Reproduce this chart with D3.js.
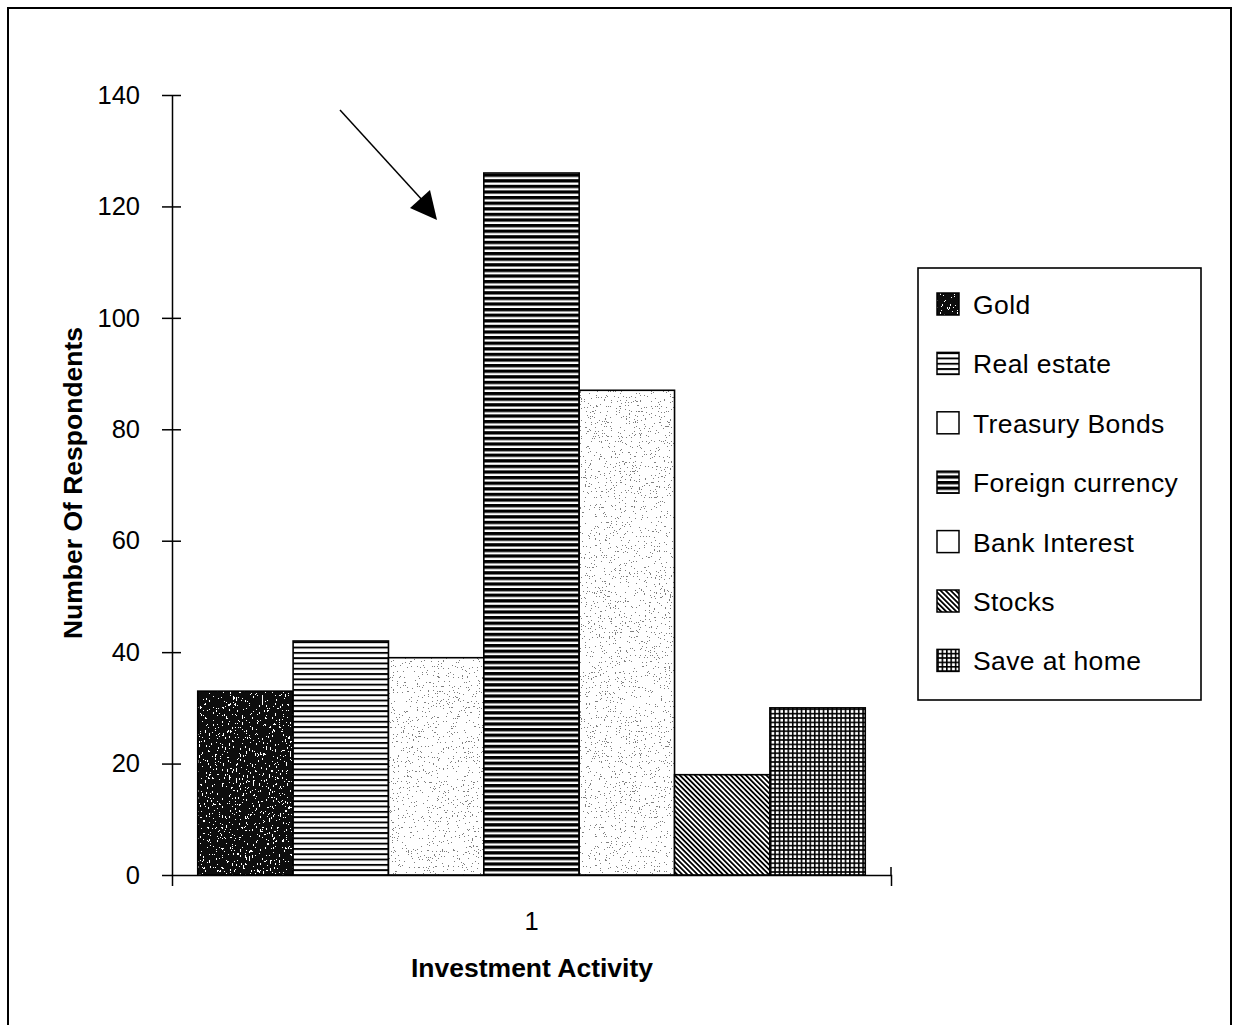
<!DOCTYPE html>
<html>
<head>
<meta charset="utf-8">
<script src="https://cdn.jsdelivr.net/npm/d3@7/dist/d3.min.js"></script>
<style>
  html, body { margin: 0; padding: 0; background: #fff; }
  svg { display: block; font-family: "Liberation Sans", Arial, sans-serif; }
</style>
</head>
<body>
<svg id="chart" width="1238" height="1025"></svg>
<script>
// Survey: where respondents put their savings
const categories = ["1"];
const seriesNames = ["Gold", "Real estate", "Treasury Bonds", "Foreign currency", "Bank Interest", "Stocks", "Save at home"];
const seriesValues = [33, 42, 39, 126, 87, 18, 30];
const yTicks = [0, 20, 40, 60, 80, 100, 120, 140];

const svg = d3.select("#chart");
const defs = svg.append("defs");

// ---- fill textures ----
function hLines(id, period, thick) {
  const p = defs.append("pattern").attr("id", id).attr("patternUnits", "userSpaceOnUse")
    .attr("width", 10).attr("height", period);
  p.append("rect").attr("width", 10).attr("height", period).attr("fill", "#fff");
  p.append("rect").attr("width", 10).attr("height", thick).attr("fill", "#000");
}
hLines("patReal", 5.3, 1.9);
hLines("patForex", 5.6, 3.3);

const diag = defs.append("pattern").attr("id", "patStocks").attr("patternUnits", "userSpaceOnUse")
  .attr("width", 10).attr("height", 3.6).attr("patternTransform", "rotate(45)");
diag.append("rect").attr("width", 10).attr("height", 3.6).attr("fill", "#fff");
diag.append("rect").attr("width", 10).attr("height", 1.8).attr("fill", "#000");

const grid = defs.append("pattern").attr("id", "patHome").attr("patternUnits", "userSpaceOnUse")
  .attr("width", 4.4).attr("height", 4.4);
grid.append("rect").attr("width", 4.4).attr("height", 4.4).attr("fill", "#fff");
grid.append("rect").attr("width", 1.6).attr("height", 4.4).attr("fill", "#000");
grid.append("rect").attr("width", 4.4).attr("height", 1.6).attr("fill", "#000");

// speckled (stipple) fills built from turbulence noise
function speckle(id, freq, octaves, seed, zeros, ones, rgb) {
  const f = defs.append("filter").attr("id", id)
    .attr("x", 0).attr("y", 0).attr("width", 1).attr("height", 1)
    .attr("color-interpolation-filters", "sRGB");
  f.append("feTurbulence").attr("type", "fractalNoise").attr("baseFrequency", freq)
    .attr("numOctaves", octaves).attr("seed", seed).attr("result", "noise");
  f.append("feColorMatrix").attr("in", "noise").attr("type", "matrix")
    .attr("values", `0 0 0 0 ${rgb[0]}  0 0 0 0 ${rgb[1]}  0 0 0 0 ${rgb[2]}  1 0 0 0 0`)
    .attr("result", "tint");
  const ct = f.append("feComponentTransfer").attr("in", "tint").attr("result", "cut");
  ct.append("feFuncA").attr("type", "discrete")
    .attr("tableValues", Array(zeros).fill(0).concat(Array(ones).fill(1)).join(" "));
  f.append("feComposite").attr("in", "cut").attr("in2", "SourceGraphic").attr("operator", "in");
}
speckle("spGold", "0.7 0.3", 3, 4, 13, 27, [0.05, 0.05, 0.05]);
speckle("spTreasury", "0.8", 2, 11, 14, 6, [0.5, 0.5, 0.5]);
speckle("spBank", "0.8", 2, 23, 14, 6, [0.5, 0.5, 0.5]);

// how each series is filled: pattern fill or white base + speckle overlay
const fills = [
  { fill: "#fff", speck: "spGold", legendSpeck: true },
  { fill: "url(#patReal)" },
  { fill: "#fff", speck: "spTreasury" },
  { fill: "url(#patForex)" },
  { fill: "#fff", speck: "spBank" },
  { fill: "url(#patStocks)" },
  { fill: "url(#patHome)" }
];

// ---- outer frame ----
svg.append("rect").attr("x", 8).attr("y", 8).attr("width", 1223).attr("height", 1030)
  .attr("fill", "none").attr("stroke", "#000").attr("stroke-width", 2);

// ---- scales ----
const plot = { left: 172, right: 891, top: 95, bottom: 875 };
const x = d3.scaleBand().domain(categories).range([plot.left, plot.right]).padding(0);
const xs = d3.scaleBand().domain(seriesNames).range([0, x.bandwidth()])
  .paddingInner(0).paddingOuter(0.27);
const y = d3.scaleLinear().domain([0, 140]).range([plot.bottom, plot.top]);

// ---- bars ----
const rows = seriesNames.map((name, i) => ({ name, value: seriesValues[i], style: fills[i] }));
const bars = svg.append("g").selectAll("g").data(rows).join("g")
  .attr("transform", d => `translate(${x(categories[0]) + xs(d.name)},0)`);
bars.append("rect")
  .attr("y", d => y(d.value)).attr("width", xs.bandwidth())
  .attr("height", d => y(0) - y(d.value)).attr("fill", d => d.style.fill);
bars.filter(d => d.style.speck).append("rect")
  .attr("y", d => y(d.value)).attr("width", xs.bandwidth())
  .attr("height", d => y(0) - y(d.value)).attr("fill", "#000")
  .attr("filter", d => `url(#${d.style.speck})`);
bars.append("rect")
  .attr("y", d => y(d.value)).attr("width", xs.bandwidth())
  .attr("height", d => y(0) - y(d.value))
  .attr("fill", "none").attr("stroke", "#000").attr("stroke-width", 1.6);

// ---- axes ----
const yAxis = svg.append("g").attr("transform", `translate(${plot.left},0)`)
  .call(d3.axisLeft(y).tickValues(yTicks).tickSize(10).tickPadding(22).tickSizeOuter(0));
yAxis.selectAll(".tick line").attr("x1", d => d > 0 ? 9 : 0).attr("stroke", "#000").attr("stroke-width", 1.5);
yAxis.select(".domain").attr("stroke", "#000").attr("stroke-width", 1.5);
yAxis.selectAll(".tick text").attr("font-size", 25.5).attr("fill", "#000")
  .attr("font-family", "'Liberation Sans', Arial, sans-serif");

const xAxis = svg.append("g").attr("transform", `translate(0,${plot.bottom})`)
  .call(d3.axisBottom(x).tickSizeInner(0).tickSizeOuter(11).tickPadding(37));
xAxis.select(".domain").attr("stroke", "#000").attr("stroke-width", 1.5);
xAxis.selectAll(".tick text").attr("font-size", 25.5).attr("fill", "#000")
  .attr("font-family", "'Liberation Sans', Arial, sans-serif");
xAxis.append("line").attr("x1", plot.right).attr("x2", plot.right).attr("y1", -8).attr("y2", 0)
  .attr("stroke", "#000").attr("stroke-width", 1.5);

// ---- axis titles ----
svg.append("text").attr("x", 532).attr("y", 977).attr("text-anchor", "middle")
  .attr("font-size", 26.5).attr("font-weight", "bold").text("Investment Activity");
svg.append("text").attr("transform", "translate(82,483) rotate(-90)").attr("text-anchor", "middle")
  .attr("font-size", 26.5).attr("font-weight", "bold").text("Number Of Respondents");

// ---- callout arrow toward the tallest bar ----
const arrow = svg.append("g");
arrow.append("line").attr("x1", 340).attr("y1", 110).attr("x2", 424).attr("y2", 202)
  .attr("stroke", "#000").attr("stroke-width", 1.5);
arrow.append("path").attr("d", "M410,208 L430,190 L437,220 Z").attr("fill", "#000");

// ---- legend ----
const lg = svg.append("g");
lg.append("rect").attr("x", 918).attr("y", 268).attr("width", 283).attr("height", 432)
  .attr("fill", "#fff").attr("stroke", "#000").attr("stroke-width", 1.6);
const items = lg.selectAll("g.item").data(rows).join("g").attr("class", "item")
  .attr("transform", (d, i) => `translate(0,${314 + i * 59.4})`);
const swatchFill = d => (d.style.speck && !d.style.legendSpeck) ? "#fff" : d.style.fill;
items.append("rect").attr("x", 937).attr("y", -21).attr("width", 22).attr("height", 22)
  .attr("fill", swatchFill);
items.filter(d => d.style.legendSpeck).append("rect")
  .attr("x", 937).attr("y", -21).attr("width", 22).attr("height", 22)
  .attr("fill", "#000").attr("filter", d => `url(#${d.style.speck})`);
items.append("rect").attr("x", 937).attr("y", -21).attr("width", 22).attr("height", 22)
  .attr("fill", "none").attr("stroke", "#000").attr("stroke-width", 1.5);
items.append("text").attr("x", 973).attr("y", 0).attr("font-size", 26.5).attr("fill", "#000")
  .attr("letter-spacing", 0.4).text(d => d.name);
</script>
</body>
</html>
